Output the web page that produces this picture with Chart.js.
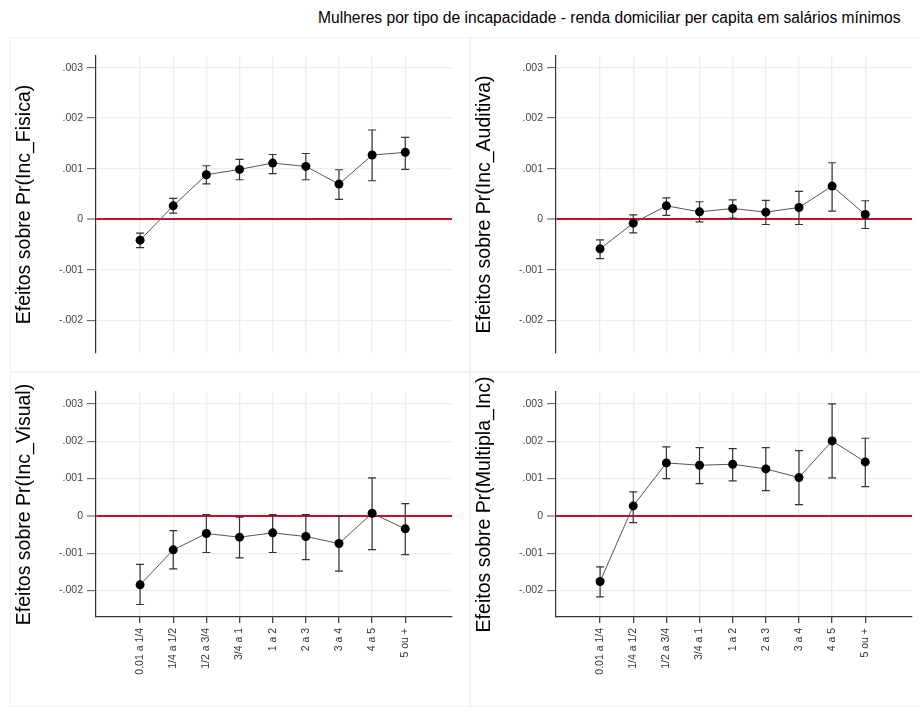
<!DOCTYPE html>
<html lang="pt">
<head>
  <meta charset="UTF-8" />
  <title>Mulheres por tipo de incapacidade</title>
  <script src="https://cdn.jsdelivr.net/npm/chart.js"></script>
  <style>
    body { margin: 0; background: #fff; font-family: "Liberation Sans", Arial, sans-serif; }
    #page { position: relative; width: 920px; height: 713px; overflow: hidden; }
    #title { position: absolute; left: 318px; top: 9px; font-size: 15.6px; color: #000; white-space: nowrap; }
    .panel { position: absolute; width: 460px; height: 335px; border: 1px solid #eef2f7; box-sizing: border-box; }
    .panel canvas { position: absolute; left: -1px; top: -1px; }
  </style>
</head>
<body>
  <div id="page">
    <div id="title">Mulheres por tipo de incapacidade - renda domiciliar per capita em salários mínimos</div>
    <div class="panel" style="left:10px; top:37px;"><canvas id="c1" width="460" height="335"></canvas></div>
    <div class="panel" style="left:470px; top:37px;"><canvas id="c2" width="460" height="335"></canvas></div>
    <div class="panel" style="left:10px; top:372px;"><canvas id="c3" width="460" height="335"></canvas></div>
    <div class="panel" style="left:470px; top:372px;"><canvas id="c4" width="460" height="335"></canvas></div>
  </div>

  <script>
    const categories = ['0.01 a 1/4', '1/4 a 1/2', '1/2 a 3/4', '3/4 a 1', '1 a 2', '2 a 3', '3 a 4', '4 a 5', '5 ou +'];
    const yTickValues = [-0.002, -0.001, 0, 0.001, 0.002, 0.003];

    // Inc_Fisica
    const fisica   = [-0.000416, 0.000264, 0.000879, 0.000985, 0.00111, 0.001044, 0.000694, 0.001269, 0.001322];
    const fisicaLo = [-0.000562, 0.000119, 0.0007, 0.00078, 0.0009, 0.00078, 0.00039, 0.00076, 0.000985];
    const fisicaHi = [-0.000278, 0.00041, 0.001057, 0.001183, 0.00128, 0.0013, 0.000978, 0.001765, 0.00162];

    // Inc_Auditiva
    const auditiva   = [-0.000588, -0.000079, 0.000264, 0.000145, 0.000211, 0.000139, 0.000231, 0.000654, 0.0000925];
    const auditivaLo = [-0.00078, -0.000271, 0.000073, -0.000053, 0.00002, -0.000106, -0.000106, 0.000159, -0.000185];
    const auditivaHi = [-0.00041, 0.000086, 0.000423, 0.000344, 0.000383, 0.00037, 0.000549, 0.001117, 0.000364];

    // Inc_Visual
    const visual   = [-0.001848, -0.000911, -0.000473, -0.000571, -0.000455, -0.000554, -0.000741, 0.000071, -0.000348];
    const visualLo = [-0.002375, -0.00142, -0.000982, -0.001125, -0.000982, -0.00117, -0.00148, -0.000902, -0.001036];
    const visualHi = [-0.0013, -0.000393, 0.000036, -0.000036, 0.000036, 0.000036, -0.000009, 0.001018, 0.00033];

    // Multipla_Inc
    const multipla   = [-0.001759, 0.000268, 0.00142, 0.001357, 0.001384, 0.001259, 0.001027, 0.002009, 0.001446];
    const multiplaLo = [-0.00217, -0.000179, 0.001, 0.000866, 0.000938, 0.000679, 0.0003, 0.001018, 0.000786];
    const multiplaHi = [-0.001366, 0.000643, 0.001848, 0.00183, 0.0018, 0.00183, 0.00175, 0.003, 0.00208];

    const FONT = "'Liberation Sans', Arial, sans-serif";

    // draws the confidence intervals under the points
    const errorBars = {
      id: 'errorBars',
      beforeDatasetsDraw(chart) {
        const { ctx, scales: { x, y } } = chart;
        const ds = chart.data.datasets[0];
        ctx.save();
        ctx.strokeStyle = '#333';
        ctx.lineWidth = 1.2;
        ds.lo.forEach((lo, i) => {
          const px = x.getPixelForValue(i);
          const top = y.getPixelForValue(ds.hi[i]);
          const bot = y.getPixelForValue(lo);
          ctx.beginPath();
          ctx.moveTo(px, top); ctx.lineTo(px, bot);
          ctx.moveTo(px - 4, top); ctx.lineTo(px + 4, top);
          ctx.moveTo(px - 4, bot); ctx.lineTo(px + 4, bot);
          ctx.stroke();
        });
        ctx.restore();
      }
    };

    function fmtY(v) {
      if (Math.abs(v) < 1e-9) return '0';
      return (v < 0 ? '-' : '') + Math.abs(v).toFixed(3).replace(/^0/, '');
    }

    function makePanel(id, yTitle, values, lo, hi, bottomRow) {
      const yMin = bottomRow ? -0.00271 : -0.00265;
      const yMax = bottomRow ? 0.00332 : 0.00323;
      new Chart(document.getElementById(id), {
        type: 'line',
        data: {
          datasets: [{
            data: values.map((v, i) => ({ x: i, y: v })),
            lo: lo,
            hi: hi,
            borderColor: '#555',
            borderWidth: 1,
            pointRadius: 4.5,
            pointBackgroundColor: '#000',
            pointBorderColor: '#000',
            pointBorderWidth: 0,
            tension: 0
          }]
        },
        options: {
          responsive: false,
          animation: false,
          layout: { padding: { left: 0, right: 18, top: bottomRow ? 20 : 19, bottom: 0 } },
          plugins: { legend: { display: false }, tooltip: { enabled: false } },
          scales: {
            x: {
              type: 'linear',
              min: -1.33,
              max: 9.41,
              afterBuildTicks: s => { s.ticks = categories.map((c, i) => ({ value: i })); },
              afterFit: s => { s.height = bottomRow ? 90 : 19; },
              grid: {
                color: '#e9eff6',
                lineWidth: 1.3,
                drawTicks: bottomRow,
                tickLength: 6,
                tickColor: '#444'
              },
              border: { display: bottomRow, color: '#333', width: 1.2 },
              ticks: {
                display: bottomRow,
                autoSkip: false,
                minRotation: 90,
                maxRotation: 90,
                padding: 5,
                color: '#333',
                font: { family: FONT, size: 10.5 },
                callback: v => categories[v]
              }
            },
            y: {
              min: yMin,
              max: yMax,
              afterBuildTicks: s => { s.ticks = yTickValues.map(v => ({ value: v })); },
              afterFit: s => { s.width = 86; },
              grid: {
                color: c => (c.tick && Math.abs(c.tick.value) < 1e-9) ? '#c8102e' : '#e9eff6',
                lineWidth: c => (c.tick && Math.abs(c.tick.value) < 1e-9) ? 2 : 1.3,
                tickLength: 9,
                tickColor: '#555',
                tickWidth: 1
              },
              border: { color: '#333', width: 1.2 },
              ticks: {
                padding: 4,
                color: '#444',
                font: { family: FONT, size: 10.5 },
                callback: v => fmtY(v)
              },
              title: {
                display: true,
                text: yTitle,
                color: '#000',
                padding: { top: 3, bottom: 0 },
                font: { family: FONT, size: 19.5 }
              }
            }
          }
        },
        plugins: [errorBars]
      });
    }

    makePanel('c1', 'Efeitos sobre Pr(Inc_Fisica)', fisica, fisicaLo, fisicaHi, false);
    makePanel('c2', 'Efeitos sobre Pr(Inc_Auditiva)', auditiva, auditivaLo, auditivaHi, false);
    makePanel('c3', 'Efeitos sobre Pr(Inc_Visual)', visual, visualLo, visualHi, true);
    makePanel('c4', 'Efeitos sobre Pr(Multipla_Inc)', multipla, multiplaLo, multiplaHi, true);
  </script>
</body>
</html>
